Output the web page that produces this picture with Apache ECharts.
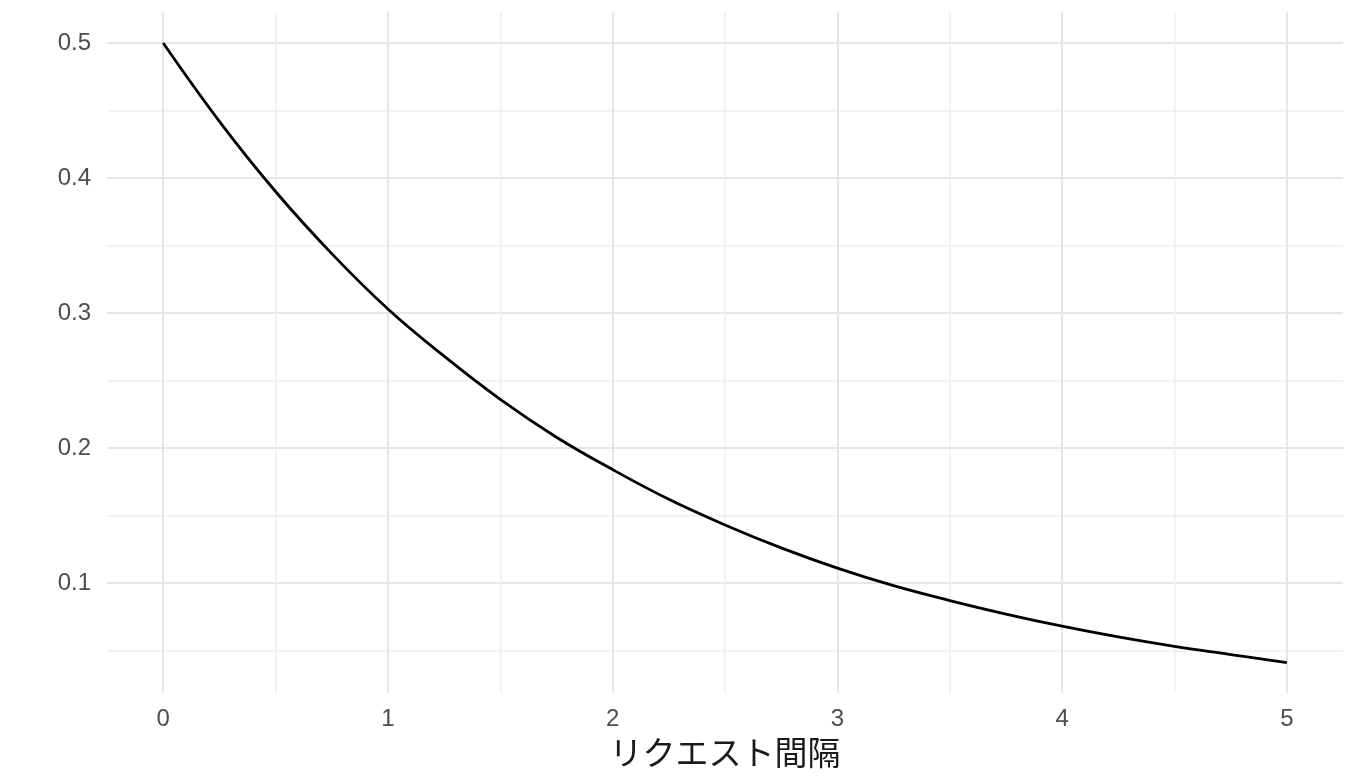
<!DOCTYPE html>
<html>
<head>
<meta charset="utf-8">
<script src="https://cdn.jsdelivr.net/npm/echarts@6/dist/echarts.min.js"></script>
<style>
  html, body { margin: 0; padding: 0; background: #fff; }
  #main { width: 1360px; height: 784px; }
</style>
</head>
<body>
<div id="main"></div>
<script>
// 読み取った値
const xs = [0, 0.25, 0.5, 0.75, 1, 1.25, 1.5, 1.75, 2, 2.25, 2.5, 2.75, 3, 3.25, 3.5, 3.75, 4, 4.25, 4.5, 4.75, 5];
const ys = [0.500, 0.442, 0.390, 0.344, 0.303, 0.268, 0.236, 0.208, 0.184, 0.162, 0.143, 0.126, 0.111, 0.098, 0.087, 0.077, 0.068, 0.060, 0.053, 0.047, 0.041];
const xTicks = [0, 1, 2, 3, 4, 5];
const xMinorTicks = [0.5, 1.5, 2.5, 3.5, 4.5];
const yTicks = [0.1, 0.2, 0.3, 0.4, 0.5];
const yMinorTicks = [0.05, 0.15, 0.25, 0.35, 0.45];
const xTitle = 'リクエスト間隔';

(function () {
    let myChart = echarts.init(document.getElementById('main'));
    const font = '"Liberation Sans", Arial, sans-serif';
    const majorColor = '#e6e6e6';
    const minorColor = '#efefef';

    let option = {
        backgroundColor: '#fff',
        animation: false,
        grid: {
            left: 107,
            top: 12,
            width: 1236,
            height: 681
        },
        xAxis: [
            {
                type: 'value',
                min: -0.25,
                max: 5.25,
                name: xTitle,
                nameLocation: 'middle',
                nameGap: 42,
                nameTextStyle: { color: '#1a1a1a', fontSize: 33, fontFamily: '"Noto Sans CJK JP", sans-serif' },
                axisLine: { show: false },
                axisTick: { show: false, customValues: xTicks },
                axisLabel: {
                    customValues: xTicks,
                    color: '#4d4d4d',
                    fontSize: 24,
                    fontFamily: font,
                    margin: 14
                },
                splitLine: { show: true, lineStyle: { color: majorColor, width: 2 } }
            },
            {
                // 補助グリッド
                type: 'value',
                min: -0.25,
                max: 5.25,
                axisLine: { show: false },
                axisTick: { show: false, customValues: xMinorTicks },
                axisLabel: { show: false },
                splitLine: { show: true, lineStyle: { color: minorColor, width: 1.5 } }
            }
        ],
        yAxis: [
            {
                type: 'value',
                min: 0.0185,
                max: 0.523,
                axisLine: { show: false },
                axisTick: { show: false, customValues: yTicks },
                axisLabel: {
                    customValues: yTicks,
                    color: '#4d4d4d',
                    fontSize: 24,
                    fontFamily: font,
                    margin: 16,
                    formatter: function (v) { return v.toFixed(1); }
                },
                splitLine: { show: true, lineStyle: { color: majorColor, width: 2 } }
            },
            {
                type: 'value',
                min: 0.0185,
                max: 0.523,
                axisLine: { show: false },
                axisTick: { show: false, customValues: yMinorTicks },
                axisLabel: { show: false },
                splitLine: { show: true, lineStyle: { color: minorColor, width: 1.5 } }
            }
        ],
        series: [
            {
                type: 'line',
                xAxisIndex: 0,
                yAxisIndex: 0,
                smooth: 0.4,
                showSymbol: false,
                lineStyle: { color: '#000', width: 2.8 },
                data: xs.map((x, i) => [x, ys[i]]),
                z: 10
            }
        ]
    };
    myChart.setOption(option);

    window.addEventListener('resize', function () {
        myChart.resize();
    });
})();
</script>
</body>
</html>
